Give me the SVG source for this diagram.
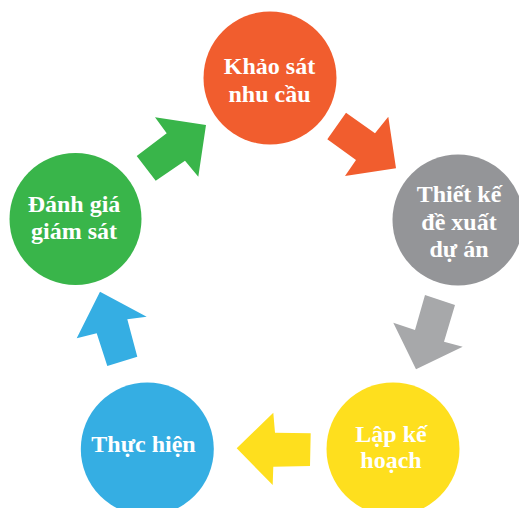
<svg xmlns="http://www.w3.org/2000/svg" width="519" height="508" viewBox="0 0 519 508">
<style>
.lbl{font-family:"Liberation Serif","DejaVu Serif",serif;font-weight:bold;font-size:24px;fill:#ffffff;text-anchor:middle}
</style>
<rect width="519" height="508" fill="#ffffff"/>
<g id="connectors">
<polygon id="arrow-orange" points="327.3,139.3 346,112.7 375,133.3 388.3,116.7 396,168.3 345,176 356,160" fill="#F15D2E"/>
<polygon id="arrow-gray" points="425,295 455,305 444,341.7 462.7,346.7 416,369.3 393.3,322.7 415,330" fill="#A7A8AA"/>
<polygon id="arrow-yellow" points="236.7,448.3 273.3,412.7 275,432.7 310.7,433.3 310,466 273.3,466.7 272.7,485" fill="#FEDF1E"/>
<polygon id="arrow-blue" points="100,291.7 146.7,316.7 127.3,319.3 137.3,356.7 107.3,366 96.7,333.3 76.7,338.3" fill="#35AEE3"/>
<polygon id="arrow-green" points="136.7,156 155.7,180.7 185,160.7 198.3,176.7 206,125 155,117.3 166.7,133.3" fill="#39B54A"/>
</g>
<g id="node-khao-sat">
<circle cx="270" cy="78" r="66.5" fill="#F15D2E"/>
<text class="lbl" x="269.5" y="74">Khảo sát</text>
<text class="lbl" x="269.5" y="101.7">nhu cầu</text>
</g>
<g id="node-thiet-ke">
<circle cx="458" cy="220" r="65.5" fill="#949598"/>
<text class="lbl" x="459" y="202">Thiết kế</text>
<text class="lbl" x="459" y="230">đề xuất</text>
<text class="lbl" x="459" y="257">dự án</text>
</g>
<g id="node-lap-ke-hoach">
<circle cx="393" cy="449" r="66.5" fill="#FEDF1E"/>
<text class="lbl" x="391" y="441.7">Lập kế</text>
<text class="lbl" x="391" y="468">hoạch</text>
</g>
<g id="node-thuc-hien">
<circle cx="147.3" cy="449" r="66.5" fill="#35AEE3"/>
<text class="lbl" x="143.5" y="451.7">Thực hiện</text>
</g>
<g id="node-danh-gia">
<circle cx="75.5" cy="219" r="66" fill="#39B54A"/>
<text class="lbl" x="74" y="211.7">Đánh giá</text>
<text class="lbl" x="74" y="239">giám sát</text>
</g>
</svg>
